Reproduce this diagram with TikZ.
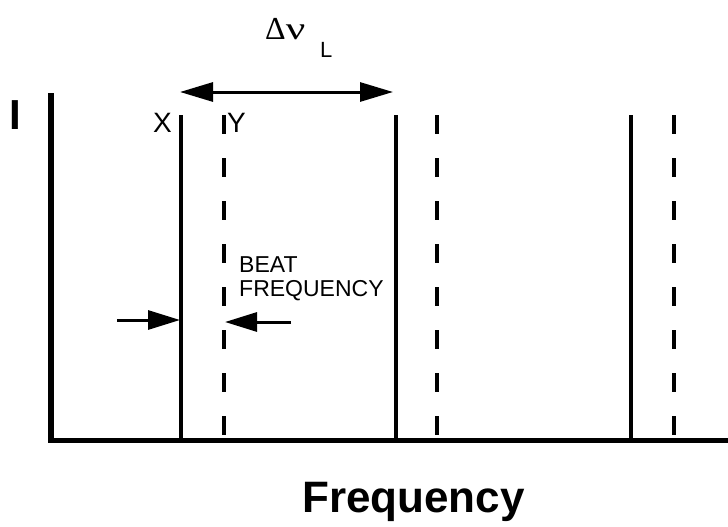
\documentclass[tikz,border=0pt]{standalone}
\usepackage{fontspec}
\usepackage{graphicx}
\setmainfont{Liberation Sans}
\newfontfamily\greekserif{Liberation Serif}
\usetikzlibrary{arrows.meta}
\begin{document}
\begin{tikzpicture}[x=1pt,y=-1pt,
  axis/.style={line width=5.5pt, line join=miter},
  solidline/.style={line width=3.5pt},
  dashline/.style={line width=3.5pt, dash pattern=on 19pt off 24pt},
  bigarrow/.style={line width=3pt, -{Triangle[length=32pt,width=19pt]}},
  dblarrow/.style={line width=3pt, {Triangle[length=33pt,width=19pt]}-{Triangle[length=33pt,width=19pt]}},
  lbl/.style={inner sep=0pt, font=\fontsize{28}{30}\selectfont},
  small/.style={inner sep=0pt, anchor=base west, font=\fontsize{23}{23}\selectfont}]
\useasboundingbox (0,0) rectangle (728,527);
% axes
\coordinate (ytop) at (51,93);
\coordinate (orig) at (51,440.5);
\coordinate (xend) at (728,440.5);
\draw[axis] (ytop) -- (orig) -- (xend);
% solid lines
\foreach \n/\x in {1/181,2/396,3/631}{
  \coordinate (s\n t) at (\x,115);
  \coordinate (s\n b) at (\x,440);
  \draw[solidline] (s\n t) -- (s\n b);
}
% dashed lines
\foreach \n/\x in {1/224,2/437,3/674}{
  \coordinate (d\n t) at (\x,115);
  \coordinate (d\n b) at (\x,440);
  \draw[dashline] (d\n t) -- (d\n b);
}
% top double arrow
\coordinate (ta) at (180,92);
\coordinate (tb) at (393,92);
\draw[dblarrow] (ta) -- (tb);
% beat frequency arrows
\coordinate (la) at (117,320);
\coordinate (lb) at (180,320);
\draw[bigarrow] (la) -- (lb);
\coordinate (ra) at (291,322);
\coordinate (rb) at (225,322);
\draw[bigarrow] (ra) -- (rb);
% labels
\node[inner sep=0pt, font=\bfseries\fontsize{42}{42}\selectfont] (I) at (15,115.5) {I};
\node[lbl, anchor=east] (X) at (172,122.5) {X};
\node[lbl, anchor=west] (Y) at (227,122.5) {Y};
\node[inner sep=0pt, anchor=base west, font=\greekserif\fontsize{32}{32}\selectfont] (dnu) at (265,40) {Δ\scalebox{1.35}[1]{ν}};
\node[inner sep=0pt, anchor=base west, font=\fontsize{22}{22}\selectfont] (L) at (320,58) {L};
\node[small] (beat1) at (239,272) {BEAT};
\node[small] (beat2) at (239,296) {FREQUENCY};
\node[inner sep=0pt, anchor=base east, font=\bfseries\fontsize{44}{44}\selectfont] (freq) at (525,512) {Frequency};
\end{tikzpicture}
\end{document}
